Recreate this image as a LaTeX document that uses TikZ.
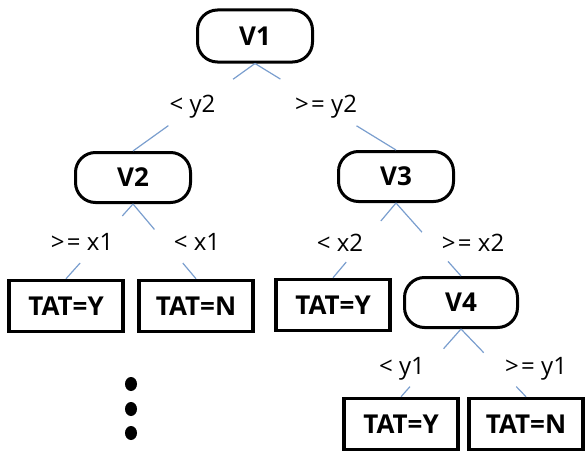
\documentclass[tikz,border=0pt]{standalone}
\usepackage{fontspec}
\setmainfont{Open Sans}
\usetikzlibrary{calc}
\definecolor{edgeblue}{RGB}{122,158,206}
\newcommand\gapedge[4]{%
  \draw[edge] (#1) -- ($(#1)!#3!(#2)$);
  \draw[edge] ($(#1)!#4!(#2)$) -- (#2);}
\newcommand\myge{>\kern2.5pt=}
\begin{document}
\begin{tikzpicture}[x=1pt,y=-1pt,
  decision/.style={draw=black, line width=3pt, rounded corners=20pt,
    minimum width=115pt, minimum height=50pt, inner sep=0pt,
    font=\fontsize{26}{26}\selectfont\bfseries},
  leaf/.style={draw=black, line width=3.5pt,
    minimum width=114pt, minimum height=51pt, inner sep=0pt,
    font=\fontsize{26}{26}\selectfont\bfseries},
  cond/.style={inner sep=0pt, font=\fontsize{24}{24}\selectfont},
  edge/.style={draw=edgeblue, line width=1.2pt}]
\useasboundingbox (0,0) rectangle (585,452);
% decision nodes
\node[decision, minimum height=52pt] (V1) at (255,36) {V1};
\node[decision] (V2) at (133,177.5) {V2};
\node[decision] (V3) at (396,176.5) {V3};
\node[decision, minimum width=113pt] (V4) at (461,302.5) {V4};
% leaves
\node[leaf] (Y1) at (66,306) {TAT=Y};
\node[leaf] (N1) at (196,306) {TAT=N};
\node[leaf] (Y2) at (333,305) {TAT=Y};
\node[leaf] (Y3) at (401,424) {TAT=Y};
\node[leaf] (N3) at (526,424) {TAT=N};
% condition labels
\node[cond] (c1) at (192.5,107) {< y2};
\node[cond] (c2) at (326,107) {\myge{} y2};
\node[cond] (c3) at (82,242) {\myge{} x1};
\node[cond] (c4) at (197,242) {< x1};
\node[cond] (c5) at (340,243) {< x2};
\node[cond] (c6) at (473,243) {\myge{} x2};
\node[cond] (c7) at (402,369) {< y1};
\node[cond] (c8) at (536,369) {\myge{} y1};
% connectors
\gapedge{V1.south}{V2.north}{0.18}{0.71}
\gapedge{V1.south}{V3.north}{0.18}{0.72}
\gapedge{V2.south}{Y1.north}{0.16}{0.79}
\gapedge{V2.south}{N1.north}{0.34}{0.79}
\gapedge{V3.south}{Y2.north}{0.24}{0.79}
\gapedge{V3.south}{V4.north}{0.40}{0.80}
\gapedge{V4.south}{Y3.north}{0.29}{0.85}
\gapedge{V4.south}{N3.north}{0.35}{0.85}
% continuation dots
\fill (131,384) ellipse [x radius=6pt, y radius=7pt];
\fill (131,409) ellipse [x radius=6pt, y radius=7pt];
\fill (131,433) ellipse [x radius=6pt, y radius=7pt];
\end{tikzpicture}
\end{document}
